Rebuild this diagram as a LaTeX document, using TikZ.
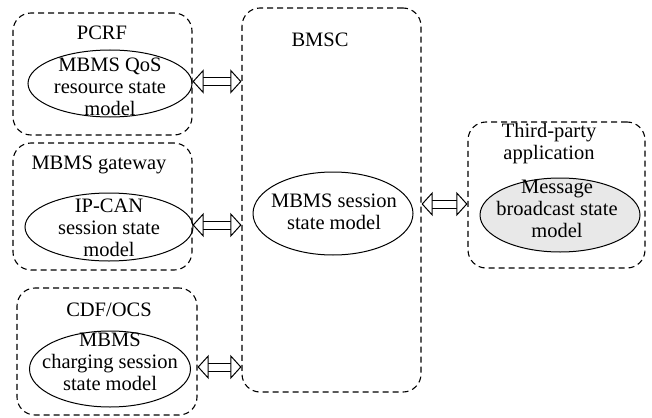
\documentclass[tikz,border=0pt]{standalone}
\usepackage{fontspec}
\setmainfont{Liberation Serif}
\usetikzlibrary{arrows.meta,shapes.geometric}
\definecolor{statefill}{HTML}{E8E8E8}
\begin{document}
\begin{tikzpicture}[x=1pt,y=-1pt,
 box/.style={draw, dash pattern=on 6pt off 4pt, line width=1.1pt, rounded corners=18pt, rectangle, inner sep=0pt},
 st/.style={draw, ellipse, line width=1pt, inner sep=0pt},
 lbl/.style={align=center, inner sep=0pt, font=\fontsize{20.5}{22}\selectfont},
 fat/.style={double, double distance=7pt, line width=1pt, {Triangle[open,length=11pt,width=24pt,fill=white]}-{Triangle[open,length=11pt,width=24pt,fill=white]}}
]
\useasboundingbox (0,0) rectangle (652,417);
% boxes
\node[box, minimum width=179pt, minimum height=122pt] (pcrf) at (102.5,74) {};
\node[box, minimum width=179pt, minimum height=127pt] (gw) at (102.5,206.5) {};
\node[box, minimum width=180pt, minimum height=127pt] (cdf) at (107,351.5) {};
\node[box, minimum width=179pt, minimum height=384pt] (bmsc) at (331.5,200) {};
\node[box, minimum width=177pt, minimum height=146pt] (third) at (556.5,195) {};
% titles
\node[lbl] (pcrfT) at (102,33) {PCRF};
\node[lbl] (gwT) at (99,165) {MBMS gateway};
\node[lbl] (cdfT) at (109,310) {CDF/OCS};
\node[lbl] (bmscT) at (320,40) {BMSC};
\node[lbl] (thirdT) at (549,144) {Third-party\\application};
% ellipses
\node[st, minimum width=164pt, minimum height=67pt] (pcrfE) at (110,83.5) {};
\node[st, minimum width=168pt, minimum height=68pt] (gwE) at (109,227) {};
\node[st, minimum width=161pt, minimum height=76pt] (cdfE) at (110,369) {};
\node[st, minimum width=160pt, minimum height=83pt] (bmscE) at (333,213.5) {};
\node[st, fill=statefill, minimum width=160pt, minimum height=74pt] (msgE) at (560,215) {};
% ellipse texts
\node[lbl] (pcrfX) at (110,87) {MBMS QoS\\resource state\\model};
\node[lbl] (gwX) at (109,228) {IP-CAN\\session state\\model};
\node[lbl] (cdfX) at (110,362) {MBMS\\charging session\\state model};
\node[lbl] (bmscX) at (334,212) {MBMS session\\state model};
\node[lbl] (msgX) at (557,208.5) {Message\\broadcast state\\model};
% arrows
\draw[fat] ([yshift=2pt]pcrf.east |- pcrfE.center) -- ([yshift=2pt]bmsc.west |- pcrfE.center);
\draw[fat] ([yshift=2pt]gw.east |- gwE.center) -- ([yshift=2pt]bmsc.west |- gwE.center);
\draw[fat] ([yshift=2pt]cdf.east |- cdfE.center) -- ([yshift=2pt]bmsc.west |- cdfE.center);
\draw[fat] ([yshift=-9pt]bmsc.east |- third.west) -- ([yshift=-9pt]third.west);
\end{tikzpicture}
\end{document}
